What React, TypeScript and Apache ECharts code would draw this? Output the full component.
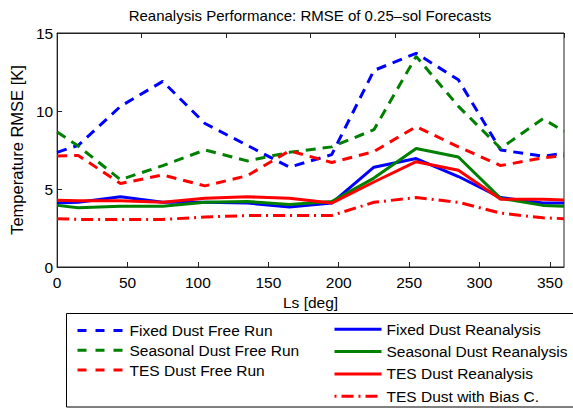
import React, { useEffect, useRef } from "react";
import * as echarts from "echarts";

const LS = [0, 15, 45, 75, 105, 135, 165, 195, 225, 255, 285, 315, 345, 360];
const fixedFree = [7.35, 7.8, 10.3, 11.9, 9.2, 7.8, 6.4, 7.2, 12.6, 13.7, 12.0, 7.5, 7.1, 7.3];
const seasonalFree = [8.65, 7.75, 5.6, 6.5, 7.5, 6.8, 7.35, 7.7, 8.8, 13.5, 10.3, 7.6, 9.5, 8.7];
const tesFree = [7.12, 7.15, 5.35, 5.9, 5.2, 5.85, 7.45, 6.7, 7.4, 9.0, 7.7, 6.5, 7.0, 7.12];
const fixedRe = [4.1, 4.15, 4.5, 4.15, 4.15, 4.1, 3.85, 4.1, 6.4, 6.95, 5.8, 4.45, 4.1, 4.1];
const seasonalRe = [3.95, 3.8, 3.9, 3.9, 4.15, 4.2, 4.0, 4.2, 5.7, 7.6, 7.05, 4.4, 3.95, 3.9];
const tesRe = [4.28, 4.25, 4.25, 4.15, 4.4, 4.5, 4.4, 4.1, 5.45, 6.75, 6.2, 4.35, 4.35, 4.3];
const tesBias = [3.1, 3.05, 3.05, 3.05, 3.2, 3.3, 3.3, 3.3, 4.15, 4.45, 4.15, 3.45, 3.15, 3.1];

const TITLE = "Reanalysis Performance: RMSE of 0.25\u2013sol Forecasts";
const X_NAME = "Ls [deg]";
const Y_NAME = "Temperature RMSE [K]";

const BLUE = "#0000ff";
const GREEN = "#008000";
const RED = "#ff0000";
const FONT = "'Liberation Sans', Arial, Helvetica, sans-serif";

const DASH = [10, 7];
const DASH_DOT = [12, 5, 2, 5];

const seriesDefs = [
  { name: "Fixed Dust Free Run", values: fixedFree, color: BLUE, type: DASH, legend: 0 },
  { name: "Seasonal Dust Free Run", values: seasonalFree, color: GREEN, type: DASH, legend: 0 },
  { name: "TES Dust Free Run", values: tesFree, color: RED, type: DASH, legend: 0 },
  { name: "Fixed Dust Reanalysis", values: fixedRe, color: BLUE, type: "solid", legend: 1 },
  { name: "Seasonal Dust Reanalysis", values: seasonalRe, color: GREEN, type: "solid", legend: 1 },
  { name: "TES Dust Reanalysis", values: tesRe, color: RED, type: "solid", legend: 1 },
  { name: "TES Dust with Bias C.", values: tesBias, color: RED, type: DASH_DOT, legend: 1 },
];

export default function App() {
  const ref = useRef<HTMLDivElement>(null);
  useEffect(() => {
    if (!ref.current) return;
    const chart = echarts.init(ref.current, null, { renderer: "svg" });

    const legendItem = (d: any) => ({
      name: d.name,
      lineStyle: {
        color: d.color,
        width: 3,
        type: d.type === DASH ? [9, 9] : d.type === DASH_DOT ? [2, 5, 12, 5] : "solid",
      },
      itemStyle: { color: d.color, opacity: 0, borderWidth: 0 },
    });

    const legendText = {
      fontFamily: FONT,
      fontSize: 15.5,
      color: "#000",
      lineHeight: 16,
    };

    const option: any = {
      animation: false,
      backgroundColor: "#fff",
      grid: {
        left: 54,
        right: 9,
        top: 33,
        bottom: 142,
        show: true,
        borderColor: "#222",
        borderWidth: 1,
        backgroundColor: "transparent",
      },
      graphic: [
        {
          type: "text",
          x: 310,
          y: 15,
          style: {
            text: TITLE,
            fill: "#000",
            font: `15px ${FONT}`,
            textAlign: "center",
            textVerticalAlign: "middle",
          },
        },
        {
          type: "rect",
          shape: { x: 66.5, y: 313.5, width: 600, height: 93.5 },
          style: { fill: "none", stroke: "#000", lineWidth: 1 },
          z: -1,
        },
      ],
      legend: [
        {
          orient: "vertical",
          left: 76,
          top: 322.5,
          padding: 0,
          itemWidth: 47,
          itemHeight: 14,
          itemGap: 3.8,
          selectedMode: false,
          textStyle: legendText,
          data: seriesDefs.filter((d) => d.legend === 0).map(legendItem),
        },
        {
          orient: "vertical",
          left: 333,
          top: 321.3,
          padding: 0,
          itemWidth: 47,
          itemHeight: 14,
          itemGap: 6.3,
          selectedMode: false,
          textStyle: legendText,
          data: seriesDefs.filter((d) => d.legend === 1).map(legendItem),
        },
      ],
      xAxis: [
        {
          type: "value",
          min: 0,
          max: 360,
          interval: 50,
          position: "bottom",
          name: X_NAME,
          nameLocation: "middle",
          nameGap: 23,
          nameTextStyle: { fontFamily: FONT, fontSize: 15.5, color: "#000" },
          axisLine: { show: true, lineStyle: { color: "#222", width: 1 } },
          axisTick: { show: true, inside: true, length: 5, lineStyle: { color: "#222" } },
          axisLabel: {
            show: true,
            showMaxLabel: false,
            margin: 7,
            fontFamily: FONT,
            fontSize: 15.5,
            color: "#000",
          },
          splitLine: { show: false },
        },
        {
          type: "value",
          min: 0,
          max: 360,
          interval: 60,
          position: "top",
          axisLine: { show: true, lineStyle: { color: "#222", width: 1 } },
          axisTick: { show: true, inside: true, length: 5, lineStyle: { color: "#222" } },
          axisLabel: { show: false },
          splitLine: { show: false },
        },
      ],
      yAxis: [
        {
          type: "value",
          min: 0,
          max: 15,
          interval: 5,
          name: Y_NAME,
          nameLocation: "middle",
          nameGap: 27,
          nameTextStyle: { fontFamily: FONT, fontSize: 16.5, color: "#000" },
          axisLine: { show: true, lineStyle: { color: "#222", width: 1 } },
          axisTick: { show: true, inside: true, length: 5, lineStyle: { color: "#222" } },
          axisLabel: { margin: 4, fontFamily: FONT, fontSize: 15.5, color: "#000" },
          splitLine: { show: false },
        },
      ],
      series: seriesDefs.map((d) => ({
        name: d.name,
        type: "line",
        xAxisIndex: 0,
        yAxisIndex: 0,
        symbol: "none",
        data: LS.map((x, i) => [x, d.values[i]]),
        lineStyle: { color: d.color, width: 3, type: d.type },
        itemStyle: { color: d.color },
        emphasis: { disabled: true },
      })),
    };

    chart.setOption(option);
    return () => chart.dispose();
  }, []);

  return (
    <div
      ref={ref}
      style={{ position: "fixed", left: 0, top: 0, width: 573, height: 409, background: "#fff" }}
    />
  );
}
